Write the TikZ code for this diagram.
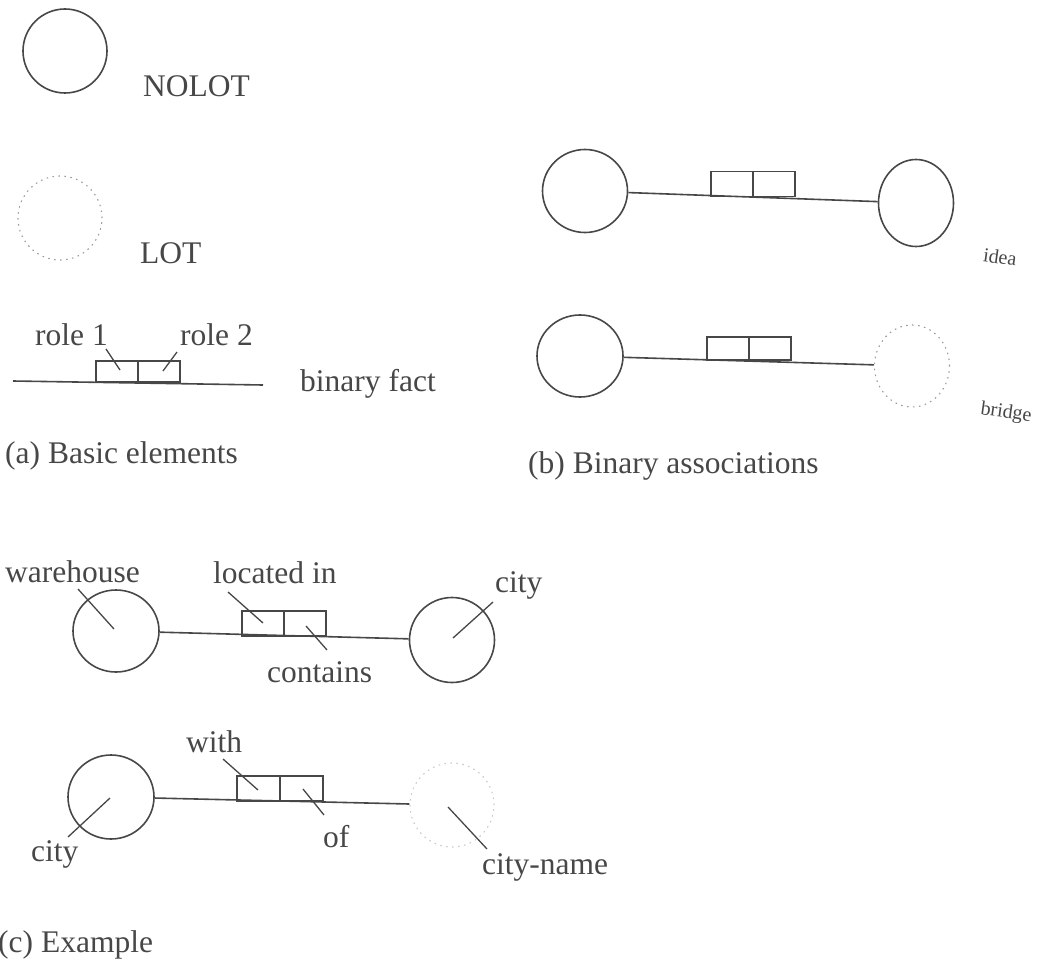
\documentclass[tikz,border=0pt]{standalone}
\usepackage{fontspec}
\setmainfont{Liberation Serif}
\usetikzlibrary{shapes.geometric,positioning}
\definecolor{ink}{gray}{0.28}
\tikzset{
  nolot/.style={draw=ink, ellipse, line width=1.6pt, inner sep=0pt},
  lot/.style={draw=ink!55, ellipse, line width=1.1pt, dash pattern=on 1.5pt off 4.5pt, inner sep=0pt},
  rolebox/.style={draw=ink, line width=1.4pt, minimum width=42pt, minimum height=24pt, inner sep=0pt, outer sep=0pt},
  lbl/.style={text=ink, font=\fontsize{31.5}{36}\selectfont, anchor=base west, inner sep=0pt},
  tiny/.style={text=ink, font=\fontsize{20}{24}\selectfont, rotate=-8, inner sep=0pt},
  fact/.style={draw=ink, line width=1.6pt},
  lead/.style={draw=ink, line width=1.3pt}
}
\begin{document}
\begin{tikzpicture}[x=1pt,y=-1pt]
	\useasboundingbox (0,0) rectangle (1038,960);

	% (a) basic elements
	\node[nolot, minimum width=84pt, minimum height=84pt] (n1)at(65,51){};
	\node[lbl] (tnolot)at(143,97){NOLOT};
	\node[lot, minimum width=84pt, minimum height=84pt] (l1)at(60,218){};
	\node[lbl] (tlot)at(140,263){LOT};

	\coordinate (fa)at(13,381);
	\coordinate (fb)at(263,385);
	\draw[fact] (fa) -- (fb);
	\node[rolebox, minimum height=21pt] (ar1)at(117,371.5){};
	\node[rolebox, minimum height=21pt, right=0pt of ar1] (ar2){};
	\node[lbl] (trole1)at(35,345){role 1};
	\node[lbl] (trole2)at(180,345){role 2};
	\coordinate (pr1)at(106,349); \coordinate (qr1)at(120,370);
	\coordinate (pr2)at(177,352); \coordinate (qr2)at(163,371);
	\draw[lead] (pr1) -- (qr1);
	\draw[lead] (pr2) -- (qr2);
	\node[lbl] (tfact)at(300,391){binary fact};
	\node[lbl] (capa)at(5,463){(a) Basic elements};

	% (b) binary associations
	\node[nolot, minimum width=85pt, minimum height=83pt] (i1)at(585,191){};
	\node[nolot, minimum width=75pt, minimum height=87pt] (i2)at(916,203){};
	\draw[fact] (i1) -- (i2);
	\node[rolebox, minimum height=25pt] (ir1)at(732,184){};
	\node[rolebox, minimum height=25pt, right=0pt of ir1] (ir2){};
	\node[tiny] (tidea)at(1000,257){idea};

	\node[nolot, minimum width=86pt, minimum height=82pt] (b1)at(580,356){};
	\node[lot, minimum width=75pt, minimum height=82pt] (b2)at(912,366){};
	\draw[fact] (b1) -- (b2);
	\node[rolebox, minimum height=23pt] (br1)at(728,348.5){};
	\node[rolebox, minimum height=23pt, right=0pt of br1] (br2){};
	\node[tiny] (tbridge)at(1006,413){bridge};
	\node[lbl] (capb)at(528,473){(b) Binary associations};

	% (c) example
	\node[nolot, minimum width=86pt, minimum height=82pt] (wh)at(116,631){};
	\node[nolot, minimum width=85pt, minimum height=85pt] (cy)at(452,640){};
	\draw[fact] (wh) -- (cy);
	\node[rolebox, minimum height=25pt] (wr1)at(263,623.5){};
	\node[rolebox, minimum height=25pt, right=0pt of wr1] (wr2){};
	\node[lbl] (twh)at(5,582){warehouse};
	\node[lbl] (tloc)at(213,583){located in};
	\node[lbl] (tcont)at(267,682){contains};
	\node[lbl] (tcity)at(495,592){city};
	\coordinate (pwh)at(78,589); \coordinate (qwh)at(114,629);
	\coordinate (ploc)at(228,592); \coordinate (qloc)at(263,623);
	\coordinate (pcont)at(327,650); \coordinate (qcont)at(306,626);
	\coordinate (pcity)at(493,602); \coordinate (qcity)at(453,638);
	\draw[lead] (pwh) -- (qwh);
	\draw[lead] (ploc) -- (qloc);
	\draw[lead] (pcont) -- (qcont);
	\draw[lead] (pcity) -- (qcity);

	\node[nolot, minimum width=86pt, minimum height=84pt] (cy2)at(111,797){};
	\node[lot, draw=ink!30, minimum width=84pt, minimum height=84pt] (cn)at(452,805){};
	\draw[fact] (cy2) -- (cn);
	\node[rolebox, minimum height=25pt, minimum width=43pt] (cr1)at(258.5,788.5){};
	\node[rolebox, minimum height=25pt, minimum width=43pt, right=0pt of cr1] (cr2){};
	\node[lbl] (twith)at(186,752){with};
	\node[lbl] (tof)at(323,847){of};
	\node[lbl] (tcity2)at(31,861){city};
	\node[lbl] (tcname)at(482,874){city-name};
	\coordinate (pwith)at(223,759); \coordinate (qwith)at(258,790);
	\coordinate (pof)at(324,815); \coordinate (qof)at(303,789);
	\coordinate (pcity2)at(68,837); \coordinate (qcity2)at(110,798);
	\coordinate (pcn)at(487,849); \coordinate (qcn)at(448,807);
	\draw[lead] (pwith) -- (qwith);
	\draw[lead] (pof) -- (qof);
	\draw[lead] (pcity2) -- (qcity2);
	\draw[lead] (pcn) -- (qcn);
	\node[lbl] (capc)at(-2,952){(c) Example};
\end{tikzpicture}
\end{document}
